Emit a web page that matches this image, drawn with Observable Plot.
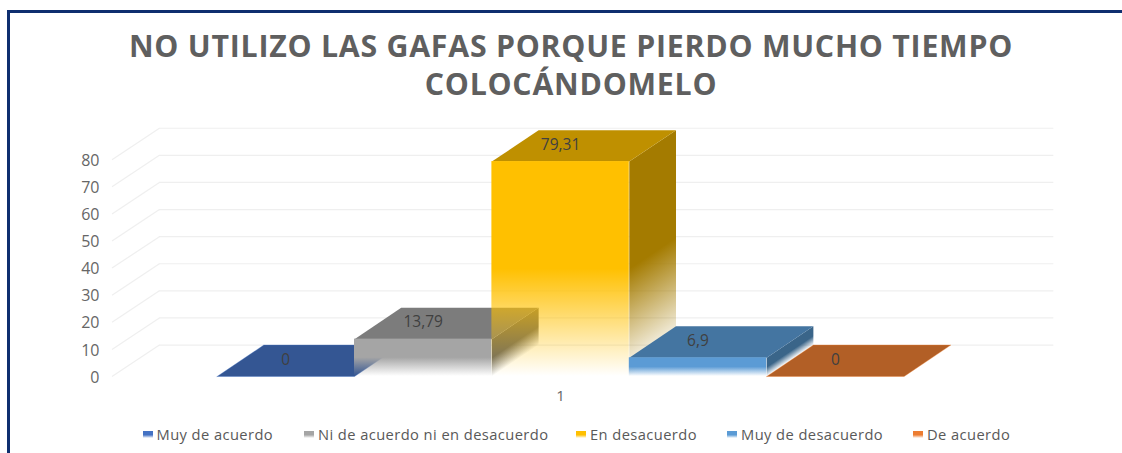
<!DOCTYPE html>
<html lang="es">
<head>
<meta charset="utf-8">
<script src="https://cdn.jsdelivr.net/npm/d3@7"></script>
<script src="https://cdn.jsdelivr.net/npm/@observablehq/plot@0.6"></script>
<style>
  html, body { margin: 0; padding: 0; background: #fff; overflow: hidden; }
  #page { position: relative; width: 1122px; height: 453px; overflow: hidden; font-family: "Open Sans", sans-serif; }
  #frame { position: absolute; left: 7px; top: 10px; right: -10px; bottom: -10px; border-left: 3px solid #0f2f6f; border-top: 3px solid #0f2f6f; pointer-events: none; }
  #title { height: 105px; box-sizing: border-box; padding: 27px 0 0 20px; text-align: center; color: #5f5f5f; font-weight: 700; font-size: 30.3px; line-height: 38px; letter-spacing: 0.75px; }
  #chart svg { display: block; overflow: visible; }
  #legend { position: relative; height: 48px; color: #595959; font-size: 14.7px; }
  .item { position: absolute; top: 19px; display: flex; align-items: center; line-height: 20px; white-space: nowrap; letter-spacing: 0.42px; }
  .swatch { width: 10px; height: 7px; margin-right: 4px; margin-top: 0px; }
</style>
</head>
<body>
<div id="page">
  <div id="frame"></div>
  <div id="title">NO UTILIZO LAS GAFAS PORQUE PIERDO MUCHO TIEMPO<br>COLOCÁNDOMELO</div>
  <div id="chart"></div>
  <div id="legend"></div>
</div>
<script>
const categories = ["Muy de acuerdo", "Ni de acuerdo ni en desacuerdo", "En desacuerdo", "Muy de desacuerdo", "De acuerdo"];
const values = [0, 13.79, 79.31, 6.9, 0];
const valueLabels = ["0", "13,79", "79,31", "6,9", "0"];
const frontColors = ["#4472c4", "#a5a5a5", "#ffc000", "#5b9bd5", "#ed7d31"];
const topColors = ["#345693", "#7c7c7c", "#bf9000", "#4475a1", "#b25f26"];
const sideColors = ["#2a4675", "#666666", "#a47b00", "#3a6589", "#8f4c1f"];
const yTicks = [0, 10, 20, 30, 40, 50, 60, 70, 80];
const xTickLabel = "1";
const legendLefts = [142.5, 304, 576, 727, 913];

// Depth of the oblique projection, in data units of each axis
const depthX = 0.34, depthY = 11.6;
const labelLift = 6.2;

const svgNS = "http://www.w3.org/2000/svg";
function gradient(id, color, x1, y1, x2, y2) {
  const g = document.createElementNS(svgNS, "linearGradient");
  g.setAttribute("id", id);
  g.setAttribute("x1", x1); g.setAttribute("y1", y1);
  g.setAttribute("x2", x2); g.setAttribute("y2", y2);
  [[0, 1], [0.5, 1], [1, 0]].forEach(([o, a]) => {
    const s = document.createElementNS(svgNS, "stop");
    s.setAttribute("offset", o);
    s.setAttribute("stop-color", color);
    s.setAttribute("stop-opacity", a);
    g.appendChild(s);
  });
  return g;
}

const defs = () => {
  const d = document.createElementNS(svgNS, "defs");
  values.forEach((v, i) => {
    d.appendChild(gradient(`front${i}`, frontColors[i], 0, 0, 0, 1));
    // side face: fade follows the slanted lower edge of the parallelogram
    const a = depthY / (v + depthY);
    const s = (1 - a) / (1 + a * a);
    d.appendChild(gradient(`side${i}`, sideColors[i], 0, a, a * s, a + s));
  });
  return d;
};

const poly = (points, fill, stroke = "none") => Plot.line(points, {x: "x", y: "y", fill, stroke, strokeWidth: 0.6, strokeOpacity: 0.6});

const barMarks = values.flatMap((v, i) => {
  const marks = [];
  const top = [
    {x: i, y: v}, {x: i + 1, y: v},
    {x: i + 1 + depthX, y: v + depthY}, {x: i + depthX, y: v + depthY}, {x: i, y: v}
  ];
  if (v > 0) {
    const side = [
      {x: i + 1, y: 0}, {x: i + 1, y: v},
      {x: i + 1 + depthX, y: v + depthY}, {x: i + 1 + depthX, y: depthY}, {x: i + 1, y: 0}
    ];
    marks.push(poly(side, `url(#side${i})`));
  }
  marks.push(poly(top, topColors[i], v > 0 ? "none" : frontColors[i]));
  if (v > 0) {
    marks.push(Plot.rect([{i, v}], {x1: d => d.i, x2: d => d.i + 1, y1: 0, y2: d => d.v, fill: `url(#front${i})`}));
  }
  return marks;
});

const gridColor = "#efefef";
const plot = Plot.plot({
  width: 1122,
  height: 300,
  marginLeft: 106,
  marginRight: 60,
  marginTop: 0,
  marginBottom: 29,
  style: {background: "transparent", color: "#666666", fontFamily: "'Open Sans', sans-serif"},
  x: {domain: [-0.805, 6.153], axis: null},
  y: {domain: [0, 100], axis: null},
  marks: [
    defs,
    Plot.ruleY(yTicks, {y: d => d + depthY, x1: -0.42, x2: 6.09, stroke: gridColor, strokeWidth: 1.2}),
    Plot.link(yTicks, {x1: -0.765, y1: d => d, x2: -0.42, y2: d => d + depthY, stroke: gridColor, strokeWidth: 1.2}),
    ...barMarks,
    Plot.text(values.map((v, i) => ({x: i + 0.5, y: v + labelLift, t: valueLabels[i]})), {
      x: "x", y: "y", text: "t", fill: "#404040", fontSize: 15.5
    }),
    Plot.axisY({ticks: yTicks, tickSize: 0, tickPadding: 7, label: null, fontSize: 16, dy: 1}),
    Plot.axisX({ticks: [2.5], tickFormat: () => xTickLabel, tickSize: 0, tickPadding: 14, label: null, fontSize: 15})
  ]
});
document.getElementById("chart").appendChild(plot);

const legend = document.getElementById("legend");
categories.forEach((c, i) => {
  const item = document.createElement("div");
  item.className = "item";
  item.style.left = legendLefts[i] + "px";
  const sw = document.createElement("div");
  sw.className = "swatch";
  sw.style.background = `linear-gradient(${frontColors[i]} 55%, #ffffff)`;
  const label = document.createElement("span");
  label.textContent = c;
  item.append(sw, label);
  legend.appendChild(item);
});
</script>
</body>
</html>
